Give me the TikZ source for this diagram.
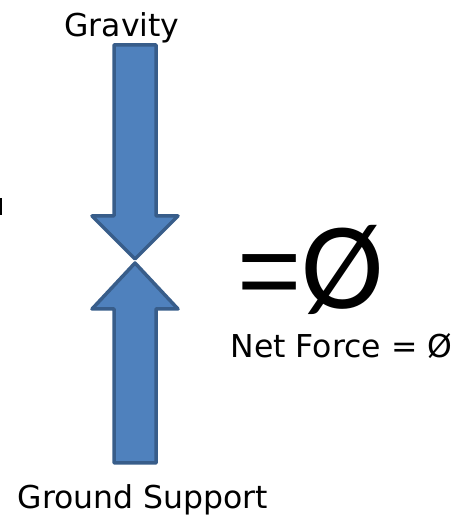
\documentclass[tikz,border=0pt]{standalone}
\usepackage{fontspec}
\setmainfont{DejaVu Sans}
\newfontfamily\bigfont{Liberation Sans}
\newfontfamily\slashfont{Carlito}
\usetikzlibrary{positioning}
\definecolor{forcefill}{RGB}{79,129,189}
\definecolor{forcedraw}{RGB}{56,93,138}
\tikzset{
  force/.style={fill=forcefill,draw=forcedraw,line width=3.5pt,line join=round},
  lbl/.style={inner sep=0pt,anchor=base,font=\fontsize{31.5}{36}\selectfont},
  big/.style={inner sep=0pt,anchor=base west,font=\bigfont\fontsize{110}{120}\selectfont},
}
\begin{document}
\begin{tikzpicture}[x=1pt,y=1pt]
  \useasboundingbox (0,0) rectangle (470,516);
  % gravity arrow, pointing down
  \draw[force] (114,471) -- (156,471) -- (156,300) -- (178,300) -- (135,257)
    -- (92,300) -- (114,300) -- cycle;
  % ground support arrow, pointing up
  \draw[force] (135,253) -- (178,207) -- (156,207) -- (156,53) -- (114,53)
    -- (114,207) -- (92,207) -- cycle;
  % cut-off mark at the left edge
  \fill (0,301) rectangle (1.7,318);
  \node[lbl] (grav) at (122,479) {Gravity};
  \node[lbl] (ground) at (143,8) {Ground Support};
  \node[big] (eqzero) at (237,207) {={\slashfont\fontsize{124}{130}\selectfont Ø}};
  \node[lbl] (net) at (341.5,158) {Net Force = Ø};
\end{tikzpicture}
\end{document}
